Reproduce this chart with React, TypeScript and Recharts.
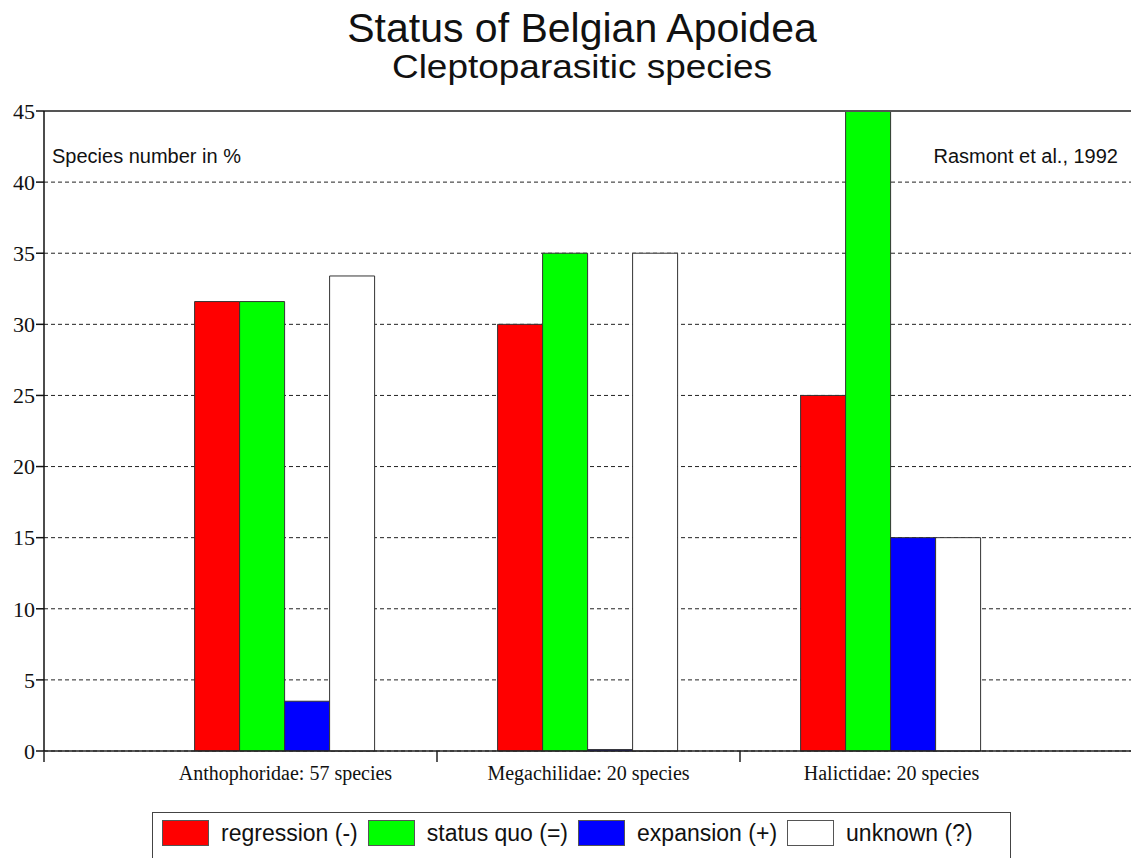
import React from 'react';
import { BarChart, Bar, XAxis, YAxis, CartesianGrid, ReferenceLine } from 'recharts';

const categories = ['Anthophoridae: 57 species', 'Megachilidae: 20 species', 'Halictidae: 20 species'];
const regression = [31.6, 30, 25];
const statusQuo = [31.6, 35, 45];
const expansion = [3.5, 0.1, 15];
const unknown = [33.4, 35, 15];
const yTicks = [0, 5, 10, 15, 20, 25, 30, 35, 40, 45];

const seriesNames = ['regression (-)', 'status quo (=)', 'expansion (+)', 'unknown (?)'];
const seriesColors = ['#ff0000', '#00ff00', '#0000ff', '#ffffff'];

const data = categories.map((c, i) => ({
  name: c,
  regression: regression[i],
  statusQuo: statusQuo[i],
  expansion: expansion[i],
  unknown: unknown[i],
}));

const SANS = '"Liberation Sans", Arial, sans-serif';
const SERIF = '"Liberation Serif", "Times New Roman", serif';

const XTick = (props: any) => {
  const { x, y, payload, index } = props;
  const half = 151.5;
  return (
    <g>
      <text x={x} y={y + 21} textAnchor="middle" fontFamily={SERIF} fontSize={20} fill="#111">
        {payload.value}
      </text>
      {index < 2 && <line x1={x + half} x2={x + half} y1={y - 8} y2={y + 3} stroke="#222" strokeWidth={1.5} />}
      {index === 0 && <line x1={x - half - 90} x2={x - half - 90} y1={y - 8} y2={y + 3} stroke="#222" strokeWidth={1.5} />}
    </g>
  );
};

const LegendBox = () => (
  <div
    style={{
      position: 'absolute',
      left: 152,
      top: 812,
      width: 859,
      height: 60,
      border: '1.5px solid #444',
      boxSizing: 'border-box',
      display: 'flex',
      alignItems: 'flex-start',
      paddingLeft: 9,
      paddingTop: 7,
      fontFamily: SANS,
      fontSize: 23,
      color: '#111',
    }}
  >
    {seriesNames.map((n, i) => (
      <div key={n} style={{ display: 'flex', alignItems: 'center', marginRight: 10 }}>
        <div
          style={{
            width: 47,
            height: 26,
            background: seriesColors[i],
            border: '1px solid #555',
            boxSizing: 'border-box',
            marginRight: 12,
          }}
        />
        <span style={{ lineHeight: '26px' }}>{n}</span>
      </div>
    ))}
  </div>
);

export default function App() {
  return (
    <div style={{ position: 'absolute', left: 0, top: 0, width: 1131, height: 858, background: '#fff', overflow: 'hidden' }}>
      <div style={{ position: 'absolute', left: 0, top: 7, width: 1164, height: 42, textAlign: 'center', fontFamily: SANS, fontSize: 41, color: '#111', lineHeight: '42px' }}>
        Status of Belgian Apoidea
      </div>
      <div style={{ position: 'absolute', left: 0, top: 50, width: 1164, height: 34, textAlign: 'center', fontFamily: SANS, fontSize: 33, color: '#111', lineHeight: '34px', transform: 'scaleX(1.12)' }}>
        Cleptoparasitic species
      </div>
      <BarChart
        width={1131}
        height={858}
        data={data}
        margin={{ top: 111, right: 0, bottom: 77, left: 0 }}
        barCategoryGap="20%"
        barGap={0}
      >
        <CartesianGrid horizontal vertical={false} stroke="#222" strokeDasharray="4 3" />
        <ReferenceLine y={45} stroke="#555" strokeWidth={2} />
        <XAxis
          dataKey="name"
          height={30}
          padding={{ left: 90, right: 88 }}
          axisLine={{ stroke: '#222', strokeWidth: 1.5 }}
          tickLine={false}
          tick={<XTick />}
          interval={0}
        />
        <YAxis
          width={44}
          domain={[0, 45]}
          ticks={yTicks}
          interval={0}
          axisLine={{ stroke: '#111', strokeWidth: 1.5 }}
          tickLine={{ stroke: '#111', strokeWidth: 1.5 }}
          tickSize={8}
          tickMargin={1}
          tick={{ fontFamily: SERIF, fontSize: 22, fill: '#111' }}
        />
        <Bar dataKey="regression" name={seriesNames[0]} fill={seriesColors[0]} stroke="#333" strokeWidth={1} isAnimationActive={false} />
        <Bar dataKey="statusQuo" name={seriesNames[1]} fill={seriesColors[1]} stroke="#333" strokeWidth={1} isAnimationActive={false} />
        <Bar dataKey="expansion" name={seriesNames[2]} fill={seriesColors[2]} stroke="#333" strokeWidth={1} isAnimationActive={false} />
        <Bar dataKey="unknown" name={seriesNames[3]} fill={seriesColors[3]} stroke="#333" strokeWidth={1} isAnimationActive={false} />
      </BarChart>
      <LegendBox />
      <div style={{ position: 'absolute', left: 52, top: 145, fontFamily: SANS, fontSize: 20, color: '#111' }}>
        Species number in %
      </div>
      <div style={{ position: 'absolute', right: 13, top: 145, fontFamily: SANS, fontSize: 20, color: '#111' }}>
        Rasmont et al., 1992
      </div>
    </div>
  );
}
